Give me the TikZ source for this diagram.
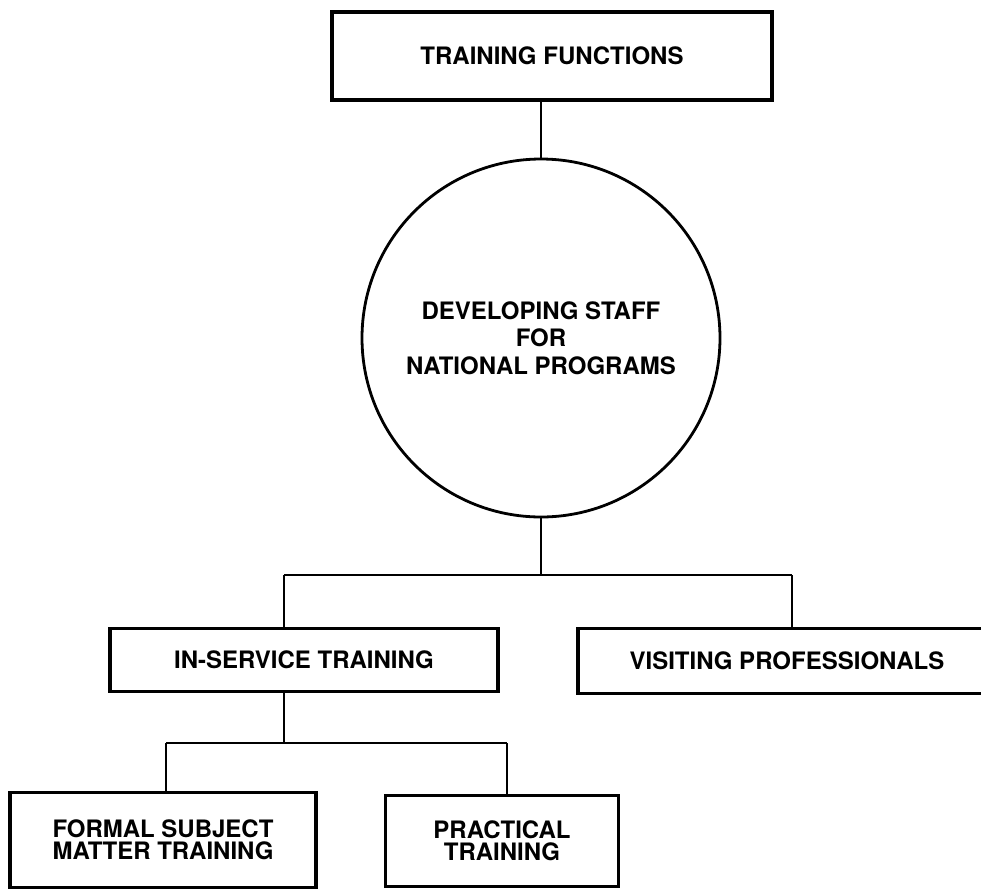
\documentclass[tikz,border=0pt]{standalone}
\usepackage{fontspec}
\setmainfont{TeX Gyre Heros}
\begin{document}
\begin{tikzpicture}[x=0.5pt,y=-0.5pt,
  box/.style={draw,line width=1.6pt,inner sep=0pt,align=center,font=\fontsize{12}{11}\selectfont\bfseries},
  hub/.style={draw,circle,line width=1.4pt,minimum size=179pt,inner sep=0pt,align=center,font=\fontsize{12}{13.75}\selectfont\bfseries},
  link/.style={line width=1pt}]
\useasboundingbox (0,0) rectangle (981,891);
\clip (0,0) rectangle (981,891);

\node[box,minimum width=220pt,minimum height=44pt] (fn) at (552,56) {TRAINING FUNCTIONS};
\node[hub] (dev) at (541,338) {DEVELOPING STAFF\\FOR\\NATIONAL PROGRAMS};

\node[box,minimum width=194pt,minimum height=31.5pt] (ins) at (304,660) {IN-SERVICE TRAINING};
\node[box,minimum width=209pt,minimum height=32.5pt] (vis) at (787,661) {VISITING PROFESSIONALS};

\node[box,minimum width=153pt,minimum height=47.5pt] (formal) at (163,840) {FORMAL SUBJECT\\MATTER TRAINING};
\node[box,minimum width=116.5pt,minimum height=45.5pt] (prac) at (502,841) {PRACTICAL\\TRAINING};

% top link
\draw[link] (fn.south -| dev.north) -- (dev.north);

% first level
\coordinate (barL) at (284,575);
\coordinate (barR) at (792,575);
\draw[link] (dev.south) -- (dev.south |- barL);
\draw[link] (barL) -- (barR);
\draw[link] (barL) -- (barL |- ins.north);
\draw[link] (barR) -- (barR |- vis.north);

% second level
\coordinate (subL) at (166,743);
\coordinate (subR) at (507,743);
\draw[link] (ins.south -| barL) -- (barL |- subL);
\draw[link] (subL) -- (subR);
\draw[link] (subL) -- (subL |- formal.north);
\draw[link] (subR) -- (subR |- prac.north);

\end{tikzpicture}
\end{document}
